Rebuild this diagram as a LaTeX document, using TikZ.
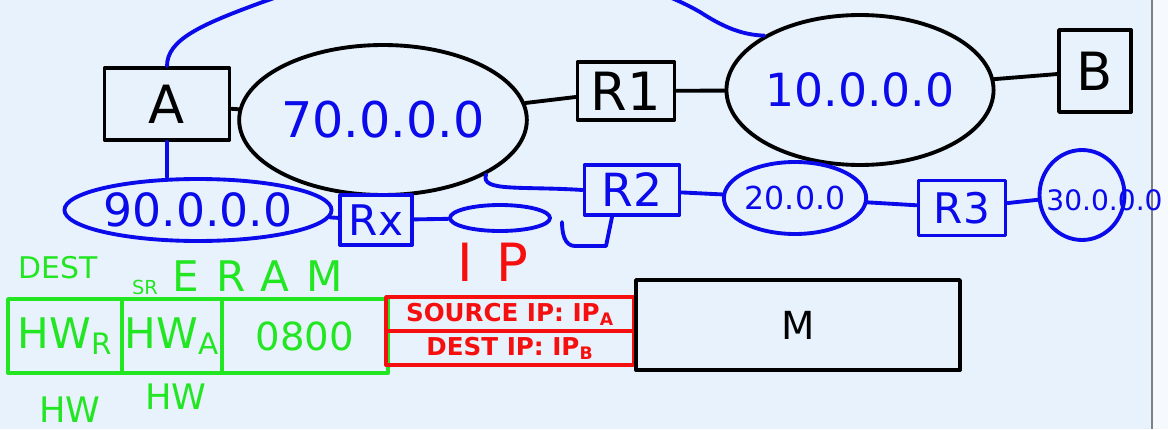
\documentclass[tikz,border=0pt]{standalone}
\usepackage{fontspec}
\setmainfont{DejaVu Sans}
\usepackage{tikz}
\usetikzlibrary{shapes.geometric}

\definecolor{board}{RGB}{232,242,252}
\definecolor{penblue}{RGB}{10,10,235}
\definecolor{pengreen}{RGB}{35,230,35}
\definecolor{penred}{RGB}{245,15,15}
\newcommand{\txtsize}[1]{\fontsize{#1}{#1}\selectfont}

\tikzset{
  pen/.style={line width=2.2pt, line cap=round, line join=round},
  box/.style={pen, draw, rectangle, inner sep=0pt},
  net/.style={pen, draw, ellipse, inner sep=0pt},
}

\begin{document}
\begin{tikzpicture}[x=0.02cm, y=-0.02cm]
        \useasboundingbox (0,0) rectangle (1168,429);
        \fill[board] (0,0) rectangle (1168,429);
        \fill[board!40!white] (1152,0) rectangle (1168,429);
        \draw[gray, line width=1.5pt] (1152,0) -- (1152,429);

        % hosts, routers and networks
        \node[box, minimum width=2.5cm, minimum height=1.44cm, font=\txtsize{30}] (A) at (167,104) {A};
        \node[net, minimum width=5.1cm, minimum height=3cm, text=penblue, font=\txtsize{28}] (n70) at (383,120) {70.0.0.0};
        \node[box, minimum width=1.94cm, minimum height=1.16cm, font=\txtsize{30}] (R1) at (626,91) {R1};
        \node[net, minimum width=5.2cm, minimum height=3cm, text=penblue, font=\txtsize{26}] (n10) at (860,90) {10.0.0.0};
        \node[box, minimum width=1.44cm, minimum height=1.64cm, font=\txtsize{30}] (B) at (1095,71) {B};

        \node[net, penblue, minimum width=4.7cm, minimum height=1.24cm, font=\txtsize{26}] (n90) at (198,210) {90.0.0.0};
        \node[box, penblue, minimum width=1.44cm, minimum height=1cm, font=\txtsize{24}] (Rx) at (376,220) {Rx};
        \node[net, penblue, minimum width=2cm, minimum height=0.52cm] (lan) at (500,218) {};
        \node[box, penblue, minimum width=1.9cm, minimum height=1cm, font=\txtsize{26}] (R2) at (632,190) {R2};
        \node[net, penblue, minimum width=2.7cm, minimum height=1.44cm, font=\txtsize{18}] (n20) at (795,198) {20.0.0};
        \node[box, penblue, minimum width=1.74cm, minimum height=1.1cm, font=\txtsize{24}] (R3) at (962,208) {R3};
        \node[net, penblue, minimum width=1.7cm, minimum height=1.8cm] (n30) at (1082,195) {};
        \node[anchor=west, inner sep=0pt, text=penblue, font=\txtsize{16}] (lbl30) at (1046,200) {30.0.0.0};
        \coordinate (hook) at (562,222);

        \draw[pen] (A) -- (n70);
        \draw[pen] (n70) -- (R1);
        \draw[pen] (R1) -- (n10);
        \draw[pen] (n10) -- (B);
        \draw[pen, penblue] (A.north) .. controls (167,40) and (200,25) .. (260,3)
                .. controls (420,-55) and (600,-45) .. (700,12)
                .. controls (720,25) and (740,35) .. (n10.north west);
        \draw[pen, penblue] (A.south) -- (A.south |- n90.north);
        \draw[pen, penblue] (n90) -- (Rx);
        \draw[pen, penblue] (Rx) -- (lan);
        \draw[pen, penblue] (n70.south east) .. controls (480,192) and (520,186) .. (R2.west);
        \draw[pen, penblue] ([xshift=-0.4cm]R2.south) -- (606,246) -- (575,246) to[out=180, in=-90] (hook);
        \draw[pen, penblue] (R2) -- (n20);
        \draw[pen, penblue] (n20) -- (R3);
        \draw[pen, penblue] (R3) -- (n30);

        % frame
        \node[text=pengreen, font=\txtsize{17}] (dsttag) at (58,268) {DEST};
        \node[text=pengreen, font=\txtsize{11}] (srctag) at (145,287) {SR};
        \node[text=pengreen, font={\txtsize{24}\addfontfeature{LetterSpace=40}}] (ethtag) at (258,276) {ERAM};
        \node[text=penred, font={\txtsize{30}\addfontfeature{LetterSpace=45}}] (iptag) at (493,262) {IP};

        \node[box, pengreen, minimum width=2.28cm, minimum height=1.48cm, font=\txtsize{24}] (dst) at (65,336) {HW\textsubscript{R}};
        \node[box, pengreen, minimum width=2cm, minimum height=1.48cm, font=\txtsize{24}] (src) at (172,336) {HW\textsubscript{A}};
        \node[box, pengreen, minimum width=3.32cm, minimum height=1.48cm, font=\txtsize{22}] (typ) at (305,336) {0800};
        \node[box, penred, minimum width=4.96cm, minimum height=0.68cm, font=\txtsize{14}\bfseries] (sip) at (510,314) {SOURCE IP: IP\textsubscript{A}};
        \node[box, penred, minimum width=4.96cm, minimum height=0.68cm, font=\txtsize{14}\bfseries] (dip) at (510,348) {DEST IP: IP\textsubscript{B}};
        \node[box, minimum width=6.48cm, minimum height=1.8cm, font=\txtsize{22}] (msg) at (798,325) {M};

        \node[text=pengreen, font=\txtsize{20}] (hwdst) at (70,410) {HW};
        \node[text=pengreen, font=\txtsize{20}] (hwsrc) at (176,397) {HW};
    \end{tikzpicture}
\end{document}
